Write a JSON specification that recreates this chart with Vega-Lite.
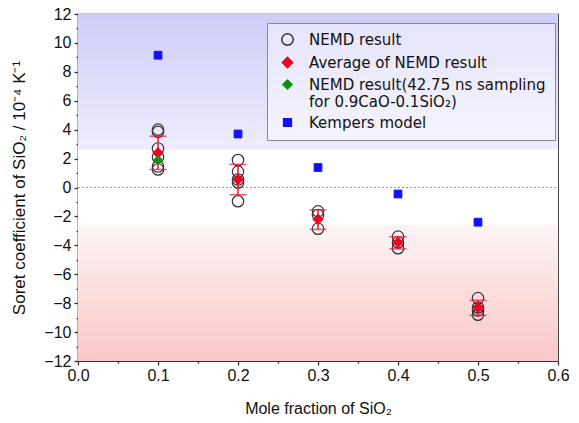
{
  "$schema": "https://vega.github.io/schema/vega-lite/v6.json",
  "width": 480,
  "height": 347,
  "autosize": {"type": "none"},
  "padding": {"left": 78, "top": 14, "right": 21, "bottom": 62},
  "background": "white",
  "config": {
    "font": "Liberation Sans",
    "view": {"stroke": "#333", "strokeWidth": 1.2},
    "axis": {
      "domainColor": "#333",
      "domainWidth": 1.2,
      "tickColor": "#333",
      "tickWidth": 1.3,
      "labelColor": "#111",
      "labelFontSize": 16,
      "titleColor": "#111",
      "titleFontSize": 16,
      "titleFontWeight": "normal",
      "grid": false
    }
  },
  "datasets": {
    "circles": [
      {"x": 0.1, "y": 4.0, "series": "NEMD result"},
      {"x": 0.1, "y": 3.85, "series": "NEMD result"},
      {"x": 0.1, "y": 2.7, "series": "NEMD result"},
      {"x": 0.1, "y": 2.1, "series": "NEMD result"},
      {"x": 0.1, "y": 1.45, "series": "NEMD result"},
      {"x": 0.1, "y": 1.25, "series": "NEMD result"},
      {"x": 0.2, "y": 1.9, "series": "NEMD result"},
      {"x": 0.2, "y": 1.1, "series": "NEMD result"},
      {"x": 0.2, "y": 0.55, "series": "NEMD result"},
      {"x": 0.2, "y": 0.35, "series": "NEMD result"},
      {"x": 0.2, "y": -0.95, "series": "NEMD result"},
      {"x": 0.3, "y": -1.65, "series": "NEMD result"},
      {"x": 0.3, "y": -1.9, "series": "NEMD result"},
      {"x": 0.3, "y": -2.85, "series": "NEMD result"},
      {"x": 0.4, "y": -3.4, "series": "NEMD result"},
      {"x": 0.4, "y": -3.8, "series": "NEMD result"},
      {"x": 0.4, "y": -4.2, "series": "NEMD result"},
      {"x": 0.5, "y": -7.65, "series": "NEMD result"},
      {"x": 0.5, "y": -8.3, "series": "NEMD result"},
      {"x": 0.5, "y": -8.5, "series": "NEMD result"},
      {"x": 0.5, "y": -8.8, "series": "NEMD result"}
    ],
    "errors": [
      {"x": 0.1, "lo": 1.25, "hi": 3.55},
      {"x": 0.2, "lo": -0.5, "hi": 1.6},
      {"x": 0.3, "lo": -2.9, "hi": -1.55},
      {"x": 0.4, "lo": -4.25, "hi": -3.4},
      {"x": 0.5, "lo": -8.85, "hi": -7.8}
    ],
    "markers": [
      {"x": 0.1, "y": 2.4, "series": "Average of NEMD result"},
      {"x": 0.2, "y": 0.55, "series": "Average of NEMD result"},
      {"x": 0.3, "y": -2.2, "series": "Average of NEMD result"},
      {"x": 0.4, "y": -3.8, "series": "Average of NEMD result"},
      {"x": 0.5, "y": -8.3, "series": "Average of NEMD result"},
      {"x": 0.1, "y": 1.9, "series": "NEMD result(42.75 ns sampling for 0.9CaO-0.1SiO₂)"},
      {"x": 0.1, "y": 9.15, "series": "Kempers model"},
      {"x": 0.2, "y": 3.7, "series": "Kempers model"},
      {"x": 0.3, "y": 1.38, "series": "Kempers model"},
      {"x": 0.4, "y": -0.45, "series": "Kempers model"},
      {"x": 0.5, "y": -2.4, "series": "Kempers model"}
    ]
  },
  "layer": [
    {
      "data": {"values": [{}]},
      "mark": {
        "type": "rect",
        "fill": {
          "gradient": "linear",
          "x1": 0, "y1": 0, "x2": 0, "y2": 1,
          "stops": [
            {"offset": 0, "color": "#cecdf7"},
            {"offset": 0.39, "color": "#eeedfc"},
            {"offset": 0.392, "color": "#ffffff"},
            {"offset": 0.605, "color": "#ffffff"},
            {"offset": 0.61, "color": "#fdf4f4"},
            {"offset": 1, "color": "#fbc6c6"}
          ]
        }
      },
      "encoding": {
        "x": {
          "datum": 0, "type": "quantitative",
          "scale": {"domain": [0, 0.6], "nice": false, "zero": false},
          "axis": {
            "orient": "bottom",
            "title": "Mole fraction of SiO₂",
            "values": [0, 0.1, 0.2, 0.3, 0.4, 0.5, 0.6],
            "format": ".1f",
            "ticks": false,
            "labelPadding": 6,
            "labelFlush": false,
            "titlePadding": 17
          }
        },
        "x2": {"datum": 0.6},
        "y": {
          "datum": 12, "type": "quantitative",
          "scale": {"domain": [-12, 12], "nice": false, "zero": false},
          "axis": {
            "orient": "left",
            "title": "Soret coefficient of SiO₂ / 10⁻⁴ K⁻¹",
            "titleFontSize": 17,
            "values": [-12, -10, -8, -6, -4, -2, 0, 2, 4, 6, 8, 10, 12],
            "format": "d",
            "ticks": false,
            "labelPadding": 7,
            "labelFlush": false,
            "titlePadding": 15
          }
        },
        "y2": {"datum": -12}
      }
    },
    {
      "data": {"values": [{}]},
      "mark": {"type": "rule", "color": "#999", "strokeDash": [2, 2], "strokeWidth": 1.2},
      "encoding": {
        "x": {"datum": 0, "type": "quantitative", "axis": {"orient": "bottom", "title": null, "labels": false, "domain": false, "tickSize": 4, "values": [0, 0.1, 0.2, 0.3, 0.4, 0.5, 0.6]}},
        "x2": {"datum": 0.6},
        "y": {"datum": 0, "type": "quantitative", "axis": {"orient": "left", "title": null, "labels": false, "domain": false, "tickSize": 4, "values": [-12, -10, -8, -6, -4, -2, 0, 2, 4, 6, 8, 10, 12]}}
      }
    },
    {
      "data": {"values": [{}]},
      "mark": {"type": "rule", "strokeOpacity": 0},
      "encoding": {
        "x": {"datum": 0, "type": "quantitative", "axis": {"orient": "bottom", "title": null, "labels": false, "domain": false, "tickSize": 2, "values": [0.05, 0.15, 0.25, 0.35, 0.45, 0.55]}},
        "x2": {"datum": 0.6},
        "y": {"datum": 0, "type": "quantitative", "axis": {"orient": "left", "title": null, "labels": false, "domain": false, "tickSize": 2, "values": [-11, -9, -7, -5, -3, -1, 1, 3, 5, 7, 9, 11]}}
      }
    },
    {
      "data": {"name": "circles"},
      "mark": {"type": "point", "filled": true, "strokeWidth": 1.2, "opacity": 1},
      "encoding": {
        "x": {"field": "x", "type": "quantitative", "axis": null},
        "y": {"field": "y", "type": "quantitative", "axis": null},
        "shape": {"field": "series", "type": "nominal", "scale": {"domain": ["NEMD result", "Average of NEMD result", "NEMD result(42.75 ns sampling for 0.9CaO-0.1SiO₂)", "Kempers model"], "range": ["circle", "diamond", "diamond", "square"]}},
        "fill": {"field": "series", "type": "nominal", "scale": {"domain": ["NEMD result", "Average of NEMD result", "NEMD result(42.75 ns sampling for 0.9CaO-0.1SiO₂)", "Kempers model"], "range": ["transparent", "#f00020", "#158a15", "#1010ff"]}},
        "stroke": {"field": "series", "type": "nominal", "scale": {"domain": ["NEMD result", "Average of NEMD result", "NEMD result(42.75 ns sampling for 0.9CaO-0.1SiO₂)", "Kempers model"], "range": ["#333333", "#f00020", "#158a15", "#1010ff"]}},
        "size": {"field": "series", "type": "nominal", "scale": {"domain": ["NEMD result", "Average of NEMD result", "NEMD result(42.75 ns sampling for 0.9CaO-0.1SiO₂)", "Kempers model"], "range": [130, 60, 60, 55]}}
      }
    },
    {
      "data": {"name": "errors"},
      "mark": {"type": "errorbar", "color": "#f01030", "thickness": 1.5, "ticks": {"size": 17, "thickness": 1.5, "color": "#f01030"}},
      "encoding": {
        "x": {"field": "x", "type": "quantitative", "axis": null},
        "y": {"field": "lo", "type": "quantitative", "axis": null},
        "y2": {"field": "hi"}
      }
    },
    {
      "data": {"name": "markers"},
      "mark": {"type": "point", "filled": true, "strokeWidth": 1, "opacity": 1},
      "encoding": {
        "x": {"field": "x", "type": "quantitative", "axis": null},
        "y": {"field": "y", "type": "quantitative", "axis": null},
        "shape": {"field": "series", "type": "nominal", "legend": {
          "title": null, "orient": "none", "legendX": 189, "legendY": 9,
          "padding": 9, "strokeColor": "#8a8a8a", "fillColor": "rgba(255,255,255,0.45)",
          "labelFont": "DejaVu Sans", "labelFontSize": 15, "labelColor": "#111",
          "labelLimit": 400, "rowPadding": 5, "symbolOffset": 4, "labelOffset": 14,
          "labelExpr": "datum.label == 'NEMD result(42.75 ns sampling for 0.9CaO-0.1SiO₂)' ? ['NEMD result(42.75 ns sampling', 'for 0.9CaO-0.1SiO₂)'] : datum.label"
        }},
        "fill": {"field": "series", "type": "nominal"},
        "stroke": {"field": "series", "type": "nominal"},
        "size": {"field": "series", "type": "nominal"}
      }
    }
  ],
  "resolve": {"axis": {"x": "independent", "y": "independent"}}
}
